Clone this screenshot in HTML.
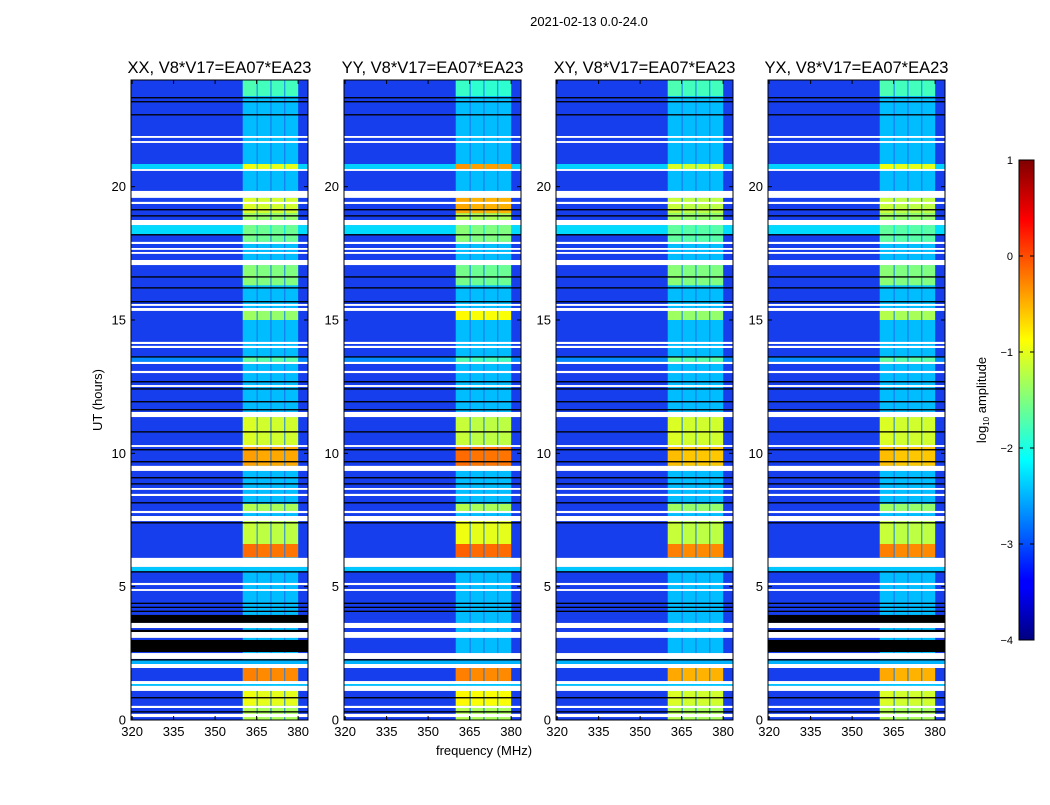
<!DOCTYPE html>
<html><head><meta charset="utf-8">
<style>
body{margin:0;background:#fff;width:1050px;height:800px;overflow:hidden;font-family:"Liberation Sans",sans-serif}
svg text{font-family:"Liberation Sans","DejaVu Sans",sans-serif}
</style></head><body>
<svg id="fig" width="1050" height="800" xmlns="http://www.w3.org/2000/svg">
<defs>
<linearGradient id="jetgrad" x1="0" y1="1" x2="0" y2="0">
<stop offset="0" stop-color="#00007f"/><stop offset="0.11" stop-color="#0000ff"/>
<stop offset="0.125" stop-color="#0000ff"/><stop offset="0.34" stop-color="#00dcff"/>
<stop offset="0.375" stop-color="#00ffff"/><stop offset="0.5" stop-color="#7fff7f"/>
<stop offset="0.625" stop-color="#ffff00"/><stop offset="0.66" stop-color="#ffdc00"/>
<stop offset="0.875" stop-color="#ff0000"/><stop offset="1" stop-color="#7f0000"/>
</linearGradient>
</defs>
<text x="589" y="26" font-size="13" text-anchor="middle">2021-02-13 0.0-24.0</text>
<text x="102" y="400" font-size="13" text-anchor="middle" transform="rotate(-90 102 400)">UT (hours)</text>
<text x="484" y="755" font-size="13" text-anchor="middle">frequency (MHz)</text>
<g id="panels"></g>
<g id="cbar">
<rect x="1019" y="160" width="15" height="480" fill="url(#jetgrad)" stroke="#000" stroke-width="1"/>
</g>
<text x="986" y="400" font-size="13" text-anchor="middle" transform="rotate(-90 986 400)">log<tspan font-size="8" dy="3">10</tspan><tspan dy="-3"> amplitude</tspan></text>
</svg>
<script>
// ---- data ----
const panelTitles = ["XX, V8*V17=EA07*EA23","YY, V8*V17=EA07*EA23","XY, V8*V17=EA07*EA23","YX, V8*V17=EA07*EA23"];
const yTicks = [0,5,10,15,20];
const xTicks = [320,335,350,365,380];
const cbarTicks = [1,0,-1,-2,-3,-4];
const backgroundLevel = -3.15;
const quietBandLevel = -2.45;
// flagged (white) time ranges, hours
const whiteStart = [21.83,21.64,20.59,19.58,19.35,18.56,17.85,17.63,17.48,17.06,15.53,15.34,14.10,13.95,13.35,13.01,12.49,11.36,10.24,9.34,8.63,8.40,7.76,7.46,5.74,5.06,4.84,3.45,3.08,2.29,1.95,1.35,1.09,0.45,0.11];
const whiteEnd   = [21.90,21.71,20.66,19.84,19.43,18.75,17.93,17.70,17.55,17.25,15.60,15.45,14.18,14.03,13.43,13.09,12.56,11.55,10.31,9.53,8.70,8.48,7.84,7.65,6.08,5.14,4.91,3.64,3.30,2.51,2.10,1.46,1.28,0.53,0.23];
// zero-data (black) rows
const blackStart = [23.31,23.16,22.67,19.11,18.88,18.17,16.59,16.18,15.66,13.59,12.66,12.39,11.91,11.61,10.78,10.11,9.66,9.06,8.83,8.12,7.37,5.53,4.35,4.20,4.05,2.23,0.81,0.28];
const blackEnd   = [23.36,23.21,22.72,19.16,18.93,18.22,16.64,16.23,15.71,13.64,12.71,12.44,11.96,11.66,10.83,10.16,9.71,9.11,8.88,8.17,7.42,5.58,4.40,4.25,4.10,2.28,0.86,0.33];
// long dead blocks (black in XX and YX only)
const deadStart = [3.64,2.55,3.30];
const deadEnd   = [3.94,3.00,3.38];
const deadPanels = [true,false,false,true];
// broadband brighter rows (full width)
const brightRowStart = [20.66,18.22,13.43,5.58,2.10,1.28];
const brightRowEnd   = [20.85,18.56,13.62,5.74,2.25,1.35];
const brightRowLevel = [-2.35,-2.3,-2.7,-2.4,-2.5,-2.4];
// RFI band (360-380 MHz) intensity segments
const bandStart = [23.4,20.66,19.0,18.75,17.93,16.3,15.0,13.43,10.31,9.53,7.84,6.1,6.6,1.46,0.53,0.0];
const bandEnd   = [24.0,20.85,19.58,19.0,18.56,17.06,15.34,13.62,11.36,10.24,8.10,6.6,7.46,1.95,1.09,0.45];
const bandXX = [-1.8,-1.0,-1.1,-1.4,-1.6,-1.5,-1.4,-1.7,-1.1,-0.45,-1.3,-0.2,-1.2,-0.3,-1.0,-1.3];
const bandYY = [-1.9,-0.4,-0.5,-1.3,-1.5,-1.6,-0.9,-1.8,-1.2,-0.2,-1.3,-0.15,-1.0,-0.3,-0.9,-1.3];
const bandXY = [-1.8,-1.1,-1.2,-1.4,-1.7,-1.5,-1.4,-1.7,-1.1,-0.6,-1.4,-0.3,-1.2,-0.5,-1.1,-1.3];
const bandYX = [-1.8,-1.0,-1.2,-1.4,-1.7,-1.5,-1.3,-1.7,-1.1,-0.6,-1.4,-0.3,-1.2,-0.5,-1.1,-1.3];
const bandLevels = [bandXX,bandYY,bandXY,bandYX];
const bandEdges = [360,365,370,375,380];

// ---- drawing ----
const NS="http://www.w3.org/2000/svg";
const panelX=[131,344,556,768], pw=177, yTop=80, yBot=720;
const fMin=319.6, fMax=319.6+177/2.767;
function yOf(h){return yBot-(h/24)*(yBot-yTop);}
function jet(v){const t=Math.max(0,Math.min(1,(v+4)/5));
 const c=x=>Math.round(255*Math.max(0,Math.min(1,x)));
 return `rgb(${c(1.5-Math.abs(4*t-3))},${c(1.5-Math.abs(4*t-2))},${c(1.5-Math.abs(4*t-1))})`;}
function mk(tag,attrs,parent){const e=document.createElementNS(NS,tag);for(const k in attrs)e.setAttribute(k,attrs[k]);parent.appendChild(e);return e;}
const root=document.getElementById('panels');
panelX.forEach((x0,p)=>{
 const xOf=f=>x0+(f-fMin)/(fMax-fMin)*pw;
 const g=mk('g',{},root);
 
 
 const img=mk('g',{},g);
 const bg=mk('rect',{x:x0,y:yTop,width:pw,height:yBot-yTop,fill:'rgb(22,62,236)'},img);
 
 
 const bandBg=mk('rect',{x:xOf(bandEdges[0]),y:yTop,width:xOf(bandEdges[4])-xOf(bandEdges[0]),height:yBot-yTop,fill:'rgb(30,110,235)'},img);
 
 
 for(let i=0;i<4;i++){const r=mk('rect',{x:xOf(bandEdges[i])+(i?1:0),y:yTop,width:xOf(bandEdges[i+1])-xOf(bandEdges[i])-(i?1:0),height:yBot-yTop,fill:jet(quietBandLevel)},img);
  
  }
 brightRowStart.forEach((s,i)=>{const r=mk('rect',{x:x0,y:yOf(brightRowEnd[i]),width:pw,height:yOf(s)-yOf(brightRowEnd[i]),fill:jet(brightRowLevel[i])},img);
  
  });
 bandStart.forEach((s,i)=>{const lv=bandLevels[p][i];
  for(let k=0;k<4;k++){const r=mk('rect',{x:xOf(bandEdges[k])+(k?1:0),y:yOf(bandEnd[i]),width:xOf(bandEdges[k+1])-xOf(bandEdges[k])-(k?1:0),height:yOf(s)-yOf(bandEnd[i]),fill:jet(lv+(k==0?0.05:0))},img);
   
   }});
 blackStart.forEach((s,i)=>{const r=mk('rect',{x:x0,y:yOf(blackEnd[i]),width:pw,height:Math.max(1,yOf(s)-yOf(blackEnd[i])),fill:'#000'},g);
  
  });
 if(deadPanels[p]) deadStart.forEach((s,i)=>{const r=mk('rect',{x:x0,y:yOf(deadEnd[i]),width:pw,height:yOf(s)-yOf(deadEnd[i]),fill:'#000'},g);
  
  });
 whiteStart.forEach((s,i)=>{const r=mk('rect',{x:x0,y:yOf(whiteEnd[i]),width:pw,height:Math.max(1.5,yOf(s)-yOf(whiteEnd[i])),fill:'#fff'},g);
  
  });
 const fr=mk('rect',{x:x0,y:yTop,width:pw,height:yBot-yTop,fill:'none',stroke:'#000','stroke-width':1},g);
 
 
 yTicks.forEach(v=>{const y=yOf(v);
  mk('line',{x1:x0,x2:x0+4,y1:y,y2:y,stroke:'#000'},g);
  mk('line',{x1:x0+pw-4,x2:x0+pw,y1:y,y2:y,stroke:'#000'},g);
  const t=mk('text',{x:x0-5,y:y+4.5,'font-size':13,'text-anchor':'end'},g);t.textContent=v;
  
  });
 xTicks.forEach(v=>{const x=xOf(v);
  mk('line',{x1:x,x2:x,y1:yBot,y2:yBot-4,stroke:'#000'},g);
  mk('line',{x1:x,x2:x,y1:yTop,y2:yTop+4,stroke:'#000'},g);
  const t=mk('text',{x:x,y:yBot+16,'font-size':13,'text-anchor':'middle'},g);t.textContent=v;
  
  });
 const tt=mk('text',{x:x0+pw/2,y:yTop-7,'font-size':16.5,'text-anchor':'middle'},g);tt.textContent=panelTitles[p];
 
 
});
const cb=document.getElementById('cbar');
cbarTicks.forEach(v=>{const y=160+(1-v)/5*480;
 mk('line',{x1:1019,x2:1023,y1:y,y2:y,stroke:'#000'},cb);
 mk('line',{x1:1030,x2:1034,y1:y,y2:y,stroke:'#000'},cb);
 const t=mk('text',{x:1013,y:y+4,'font-size':11,'text-anchor':'end'},cb);t.textContent=v<0?'\u2212'+(-v):v;
 
 });
</script>
</body></html>
